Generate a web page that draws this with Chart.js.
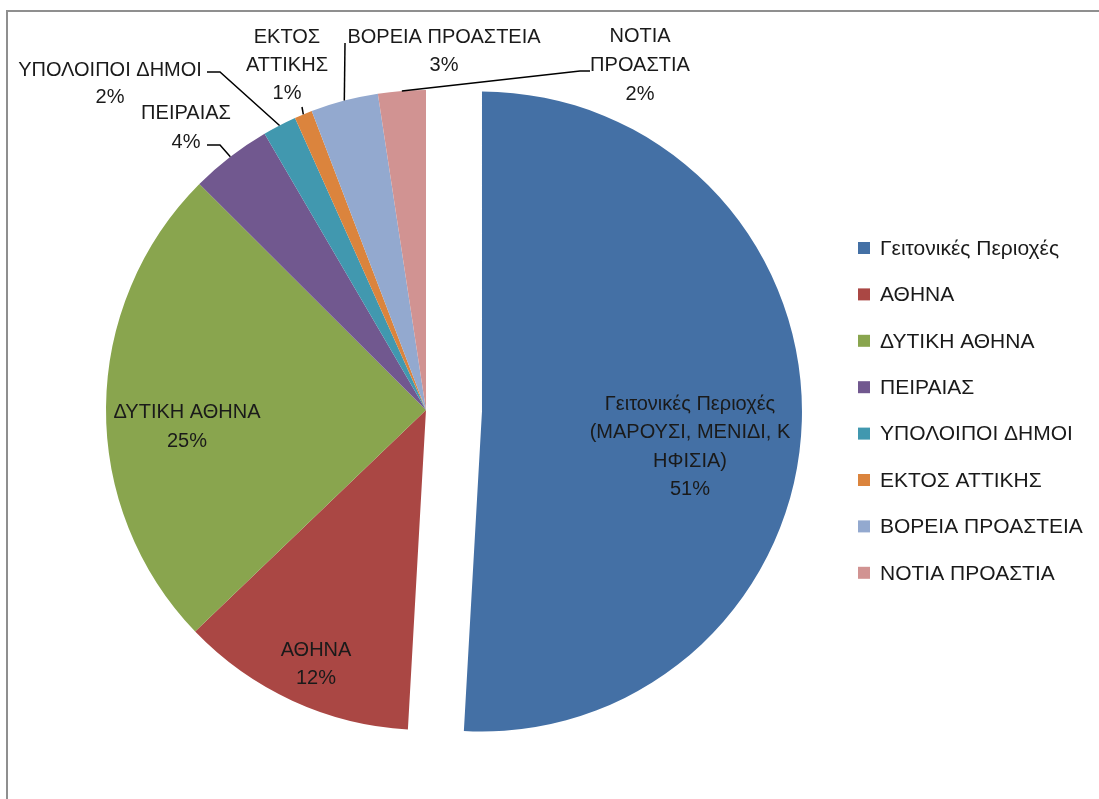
<!DOCTYPE html>
<html lang="el">
<head>
<meta charset="UTF-8">
<title>Περιοχές</title>
<script src="https://cdn.jsdelivr.net/npm/chart.js"></script>
<style>
  html, body { margin: 0; padding: 0; background: #fff; }
  canvas { display: block; }
</style>
</head>
<body>
<canvas id="grafico" width="1099" height="799"></canvas>
<script>
// dados
var categorias = ['Γειτονικές Περιοχές', 'ΑΘΗΝΑ', 'ΔΥΤΙΚΗ ΑΘΗΝΑ', 'ΠΕΙΡΑΙΑΣ', 'ΥΠΟΛΟΙΠΟΙ ΔΗΜΟΙ', 'ΕΚΤΟΣ ΑΤΤΙΚΗΣ', 'ΒΟΡΕΙΑ ΠΡΟΑΣΤΕΙΑ', 'ΝΟΤΙΑ ΠΡΟΑΣΤΙΑ'];
var valores = [50.8, 11.9, 24.6, 4.1, 1.7, 0.9, 3.4, 2.4];
// texto dos rotulos como aparece quebrado no grafico
var rotulos = [
  ['Γειτονικές Περιοχές', '(ΜΑΡΟΥΣΙ, ΜΕΝΙΔΙ, Κ', 'ΗΦΙΣΙΑ)'],
  ['ΑΘΗΝΑ'],
  ['ΔΥΤΙΚΗ ΑΘΗΝΑ'],
  ['ΠΕΙΡΑΙΑΣ'],
  ['ΥΠΟΛΟΙΠΟΙ ΔΗΜΟΙ'],
  ['ΕΚΤΟΣ', 'ΑΤΤΙΚΗΣ'],
  ['ΒΟΡΕΙΑ ΠΡΟΑΣΤΕΙΑ'],
  ['ΝΟΤΙΑ', 'ΠΡΟΑΣΤΙΑ']
];

var cores = ['#4470a5', '#aa4744', '#89a54e', '#71588f', '#4198af', '#db843d', '#93a9cf', '#d19392'];
var fonte = "'Liberation Sans', Arial, sans-serif";
var destaque = [56, 0, 0, 0, 0, 0, 0, 0]; // fatia separada (px)

// posicao do rotulo (centro da primeira linha) e linha guia
var posRotulo = [
  { x: 690, y: 404, lh: 28.5 },
  { x: 316, y: 650, lh: 28 },
  { x: 187, y: 412, lh: 29 },
  { x: 186, y: 113, lh: 29, dobra: [220, 145], fim: [207, 145] },
  { x: 110, y: 70, lh: 27, dobra: [220, 72], fim: [207, 72] },
  { x: 287, y: 37, lh: 28, dobra: [302, 107] },
  { x: 444, y: 37, lh: 28, dobra: [345, 43] },
  { x: 640, y: 36, lh: 29, dobra: [580, 71], fim: [590, 71] }
];

var centro = { x: 0, y: 0 };

var pluginRotulos = {
  id: 'rotulos',
  afterUpdate: function (chart) {
    var meta = chart.getDatasetMeta(0);
    centro.x = meta.data[0].x;
    centro.y = meta.data[0].y;
    for (var i = 0; i < meta.data.length; i++) {
      var a = meta.data[i];
      if (!destaque[i]) continue;
      var meio = (a.startAngle + a.endAngle) / 2;
      a.x = centro.x + Math.cos(meio) * destaque[i];
      a.y = centro.y + Math.sin(meio) * destaque[i];
    }
  },
  beforeDraw: function (chart) {
    var c = chart.ctx;
    c.save();
    c.strokeStyle = '#8f8f8f';
    c.lineWidth = 2;
    c.beginPath();
    c.moveTo(7, 799);
    c.lineTo(7, 11);
    c.lineTo(1099, 11);
    c.stroke();
    c.restore();
  },
  afterDraw: function (chart) {
    var c = chart.ctx;
    var meta = chart.getDatasetMeta(0);
    var total = valores.reduce(function (a, b) { return a + b; }, 0);
    c.save();
    c.fillStyle = '#1a1a1a';
    c.textAlign = 'center';
    c.textBaseline = 'middle';
    c.font = '20px ' + fonte;

    for (var i = 0; i < valores.length; i++) {
      var arco = meta.data[i];
      var p = posRotulo[i];
      var linhas = rotulos[i].concat([Math.round(valores[i] / total * 100) + '%']);
      for (var k = 0; k < linhas.length; k++) {
        c.fillText(linhas[k], p.x, p.y + k * p.lh);
      }
      if (p.dobra) {
        var meio = (arco.startAngle + arco.endAngle) / 2;
        var ax = arco.x + Math.cos(meio) * arco.outerRadius;
        var ay = arco.y + Math.sin(meio) * arco.outerRadius;
        c.strokeStyle = '#000';
        c.lineWidth = 1.5;
        c.beginPath();
        c.moveTo(ax, ay);
        c.lineTo(p.dobra[0], p.dobra[1]);
        if (p.fim) c.lineTo(p.fim[0], p.fim[1]);
        c.stroke();
      }
    }

    // legenda
    c.textAlign = 'left';
    c.font = '21px ' + fonte;
    for (var j = 0; j < categorias.length; j++) {
      var y = 248 + j * 46.4;
      c.fillStyle = cores[j];
      c.fillRect(858, y - 6, 12, 12);
      c.fillStyle = '#1a1a1a';
      c.fillText(categorias[j], 880, y + 1);
    }
    c.restore();
  }
};

var grafico = new Chart(document.getElementById('grafico'), {
  type: 'pie',
  data: {
    labels: categorias,
    datasets: [{
      data: valores,
      backgroundColor: cores,
      borderWidth: 0,
      hoverOffset: 0,
      radius: 320
    }]
  },
  options: {
    responsive: false,
    animation: false,
    events: [],
    layout: { padding: { left: 0, right: 247, top: 21, bottom: 0 } },
    plugins: {
      legend: { display: false },
      tooltip: { enabled: false }
    }
  },
  plugins: [pluginRotulos]
});
</script>
</body>
</html>
